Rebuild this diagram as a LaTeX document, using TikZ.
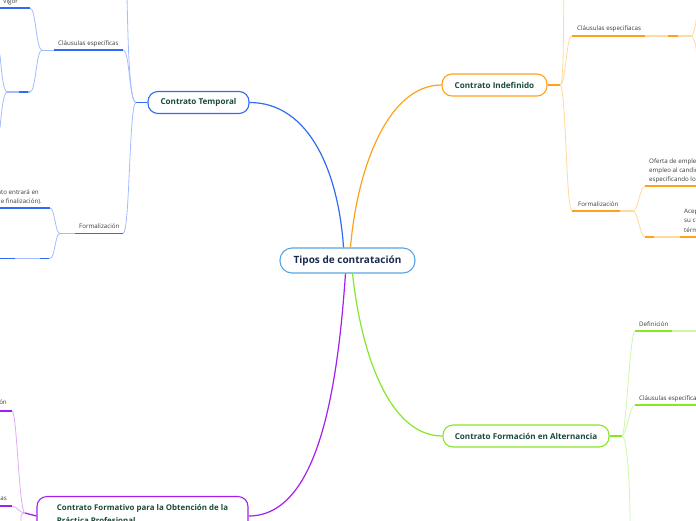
\documentclass[tikz,border=0pt]{standalone}
\usepackage{fontspec}
\setmainfont{Open Sans}
\definecolor{tblue}{HTML}{2F6BF5}
\definecolor{lblue}{HTML}{A3BCFF}
\definecolor{torange}{HTML}{FFA21A}
\definecolor{lorange}{HTML}{FFD99E}
\definecolor{tgreen}{HTML}{86E62A}
\definecolor{lgreen}{HTML}{D0F6A8}
\definecolor{tpurple}{HTML}{A21FF0}
\definecolor{lpurple}{HTML}{DFAAFA}
\definecolor{ctext}{HTML}{1B2B4D}
\definecolor{btext}{HTML}{1A4A3C}
\definecolor{stext}{HTML}{3A3A3A}
\definecolor{cborder}{HTML}{5AA5E0}
\begin{document}
\begin{tikzpicture}[x=1pt,y=-1pt,
  central/.style={draw=cborder, line width=1.1pt, rounded corners=12pt, fill=white,
    minimum width=135pt, minimum height=25pt, inner sep=0pt,
    font=\fontsize{10}{12}\selectfont\bfseries, text=ctext},
  branch/.style={draw=#1, line width=1.1pt, rounded corners=10pt, fill=white,
    minimum height=22pt, inner sep=0pt, font=\fontsize{8.1}{10}\selectfont\bfseries, text=btext},
  lbl/.style={font=\fontsize{6.2}{9}\selectfont, text=stext, inner sep=0pt, anchor=base west},
  lble/.style={lbl, anchor=base east},
  main/.style={#1, line width=1.2pt},
  sub/.style={#1, line width=0.8pt},
  uline/.style={#1, line width=1.3pt}]
\useasboundingbox (0,0) rectangle (696,520);
\clip (0,0) rectangle (696,520);

% ---------- main nodes ----------
\node[central] (c) at (347.5,260.5) {Tipos de contratación};
\node[branch=tblue, minimum width=101pt] (ct) at (198.5,102.5) {Contrato Temporal};
\node[branch=torange, minimum width=105pt] (ci) at (494.5,85) {Contrato Indefinido};
\node[branch=tgreen, minimum width=166pt] (cf) at (526,436) {Contrato Formación en Alternancia};
\node[branch=tpurple, minimum width=211pt, minimum height=36pt, align=left,
  font=\fontsize{7.9}{13}\selectfont\bfseries] (cp) at (142.5,514.5)
  {Contrato Formativo para la Obtención de la\\Práctica Profesional};

% ---------- main connectors ----------
\draw[main=tblue] ([xshift=-4pt]c.north) .. controls +(-5,-75) and +(60,0) .. (ct.east);
\draw[main=torange] ([xshift=3pt]c.north) .. controls +(6,-75) and +(-55,0) .. (ci.west);
\draw[main=tpurple] ([xshift=-2pt]c.south) .. controls +(-8,115) and +(70,0) .. ([yshift=-1.5pt]cp.east);
\draw[main=tgreen] ([xshift=5pt]c.south) .. controls +(8,75) and +(-55,0) .. (cf.west);

% ---------- Contrato Temporal subtree ----------
\coordinate (ctj) at (136,102.5);
\draw[uline=tblue] (ct.west) -- (ctj);
\coordinate (ttop) at (127,-3);
\coordinate (t1r) at (123,50);
\coordinate (t1l) at (54,50);
\coordinate (t1j) at (42,50);
\coordinate (t2r) at (123,233.5);
\coordinate (t2l) at (63,233.5);
\coordinate (t2j) at (60,233.5);
\draw[sub=lblue] (ctj) .. controls +(-7,0) and +(1,40) .. (ttop);
\draw[sub=lblue] (ctj) .. controls +(-7,0) and +(7,0) .. (t1r);
\draw[sub=lblue] (ctj) .. controls +(-7,0) and +(7,0) .. (t2r);
\draw[uline=tblue] (t1l) -- (t1r);
\draw[sub=lblue] (t1j) -- (t1l);
\node[lbl] (t1) at (58,45.5) {Cláusulas específicas};
\draw[uline=lblue] (t2l) -- (75,233.5);
\draw[uline=tblue] (75,233.5) -- (t2r);
\draw[sub=lblue] (t2j) -- (t2l);
\node[lbl] (t2) at (79,228.5) {Formalización};

% Cláusulas children
\coordinate (t11) at (30,8);
\coordinate (t12) at (30,92);
\coordinate (t12l) at (7,92);
\draw[sub=lblue] (t1j) .. controls +(-6,0) and +(6,0) .. (t11);
\draw[sub=lblue] (t1j) .. controls +(-6,0) and +(6,0) .. (t12);
\draw[uline=tblue] (-2,8) -- (t11);
\node[lble] (t11t) at (18,3) {vigor};
\draw[uline=lblue] (t12l) -- (t12);
\draw[uline=tblue] (19,92) -- (28,92);
\draw[sub=lblue] (t12l) .. controls +(-4,0) and +(1,10) .. (0,55);
\draw[sub=lblue] (t12l) .. controls +(-4,0) and +(1,-10) .. (0,128);

% Formalización children
\coordinate (t21) at (50,208);
\coordinate (t22) at (50,258.5);
\draw[sub=lblue] (t2j) .. controls +(-5,0) and +(5,0) .. (t21);
\draw[sub=lblue] (t2j) .. controls +(-5,0) and +(5,0) .. (t22);
\draw[uline=tblue] (-2,208) -- (t21);
\node[lble] (t21a) at (39,194) {ato entrará en};
\node[lble] (t21b) at (42,203) {(de finalización).};
\draw[uline=lblue] (-2,258.5) -- (t22);
\draw[uline=tblue] (-2,258.5) -- (15,258.5);
\draw[uline=tblue] (40,258.5) -- (49,258.5);

% ---------- Contrato Indefinido subtree ----------
\coordinate (cij) at (560,85);
\draw[uline=torange] (ci.east) -- (cij);
\coordinate (o1l) at (572,36);
\coordinate (o1r) at (691,36);
\coordinate (o2l) at (572,211);
\coordinate (o2r) at (633,211);
\draw[sub=lorange] (cij) .. controls +(4,0) and +(-1,40) .. (564,-3);
\draw[sub=lorange] (cij) .. controls +(6,0) and +(-6,0) .. (o1l);
\draw[sub=lorange] (cij) .. controls +(6,0) and +(-6,0) .. (o2l);
\draw[uline=lorange] (o1l) -- (o1r);
\draw[uline=torange] (o1l) -- (645,36);
\draw[uline=torange] (668,36) -- (678,36);
\node[lbl] (o1) at (577,30.5) {Cláusulas especifiacas};
\draw[sub=lorange] (o1r) .. controls +(3,0) and +(0,12) .. (697,8);
\draw[sub=lorange] (o1r) .. controls +(3,0) and +(0,-12) .. (697,60);
\draw[uline=lorange] (o2l) -- (o2r);
\draw[uline=torange] (o2l) -- (620,211);
\node[lbl] (o2) at (578,206) {Formalización};
\coordinate (o21) at (645,186);
\coordinate (o22) at (645,237);
\draw[sub=lorange] (o2r) .. controls +(5,0) and +(-5,0) .. (o21);
\draw[sub=lorange] (o2r) .. controls +(5,0) and +(-5,0) .. (o22);
\draw[uline=torange] (o21) -- (698,186);
\node[lbl, align=left, anchor=north west, font=\fontsize{6.2}{9}\selectfont] (o21t) at (649,158.5)
  {Oferta de empleo\\empleo al candidato\\especificando los};
\draw[uline=lorange] (o22) -- (698,237);
\draw[uline=torange] (o22) -- (654,237);
\draw[uline=torange] (680,237) -- (698,237);
\node[lbl, align=left, anchor=north west, font=\fontsize{6.2}{9.5}\selectfont] (o22t) at (684,208.5)
  {Aceptación\\su contrato\\términos};

% ---------- Contrato Formación en Alternancia subtree ----------
\coordinate (cfj) at (622,436);
\draw[uline=tgreen] (cf.east) -- (cfj);
\coordinate (g1l) at (635,331);
\coordinate (g2l) at (635,405);
\draw[sub=lgreen] (cfj) .. controls +(4,0) and +(-5,0) .. (g1l);
\draw[sub=lgreen] (cfj) .. controls +(4,0) and +(-5,0) .. (g2l);
\draw[sub=lgreen] (cfj) .. controls +(5,0) and +(0,-40) .. (630,523);
\draw[uline=lgreen] (g1l) -- (698,331);
\draw[uline=tgreen] (g1l) -- (672,331);
\node[lbl] (g1) at (639,326.5) {Definición};
\draw[uline=tgreen] (g2l) -- (698,405);
\node[lbl] (g2) at (639,400.5) {Cláusulas específicas};

% ---------- Contrato Formativo subtree ----------
\coordinate (cpj) at (25,513);
\draw[uline=tpurple] ([yshift=-1.5pt]cp.west) -- (cpj);
\coordinate (p1) at (12,411);
\coordinate (p2) at (12,506);
\draw[sub=lpurple] (cpj) .. controls +(-6,0) and +(5,0) .. (p1);
\draw[sub=lpurple] (cpj) .. controls +(-6,0) and +(5,0) .. (p2);
\draw[sub=lpurple] (cpj) .. controls +(-5,0) and +(0,-5) .. (21,523);
\draw[uline=tpurple] (-2,411) -- (p1);
\node[lble] (p1t) at (7,404.5) {Definición};
\draw[uline=tpurple] (-2,506) -- (p2);
\node[lble] (p2t) at (7,500) {Cláusulas específicas};
\end{tikzpicture}
\end{document}
